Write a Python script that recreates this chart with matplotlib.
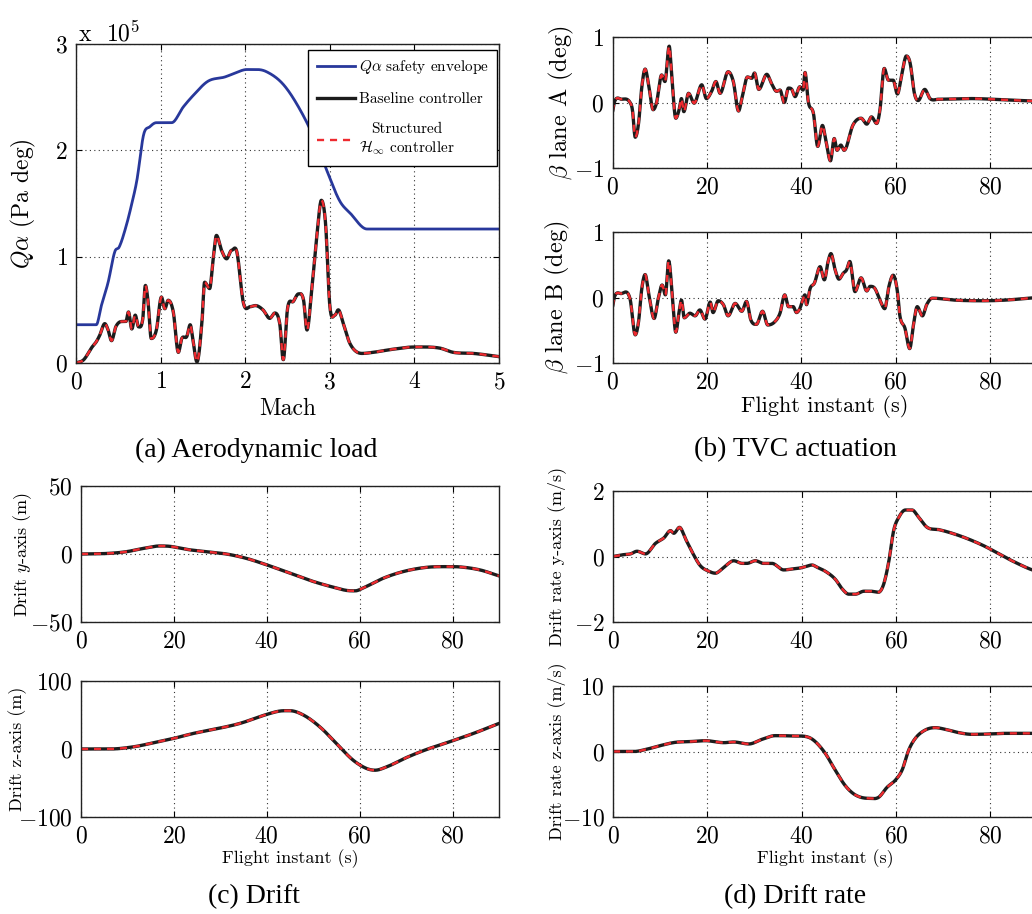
#!/usr/bin/env python

import numpy as np
import matplotlib
matplotlib.use("Agg")
import matplotlib.pyplot as plt

plt.rcParams['font.family'] = 'cmr10'
plt.rcParams['mathtext.fontset'] = 'cm'
plt.rcParams['axes.formatter.use_mathtext'] = True
plt.rcParams['axes.unicode_minus'] = True

# ---- (a) aerodynamic load, values in units of 1e5 Pa deg ----
env_mach = [0, 0.24, 0.30, 0.38, 0.46, 0.51, 0.59, 0.66, 0.72, 0.80, 0.87, 0.95, 1.03, 1.13,
            1.27, 1.39, 1.56, 1.76, 1.86, 2.02, 2.14, 2.25, 2.45, 2.65, 2.84, 2.96, 3.12,
            3.24, 3.44, 5.0]
env_qa = [0.36, 0.36, 0.54, 0.76, 1.05, 1.09, 1.28, 1.50, 1.72, 2.15, 2.22, 2.26, 2.26, 2.26,
          2.41, 2.52, 2.65, 2.69, 2.72, 2.76, 2.76, 2.74, 2.62, 2.38, 2.07, 1.82, 1.52,
          1.41, 1.26, 1.26]
qa_mach = [0, 0.09, 0.19, 0.24, 0.28, 0.34, 0.38, 0.42, 0.47, 0.54, 0.59, 0.62, 0.66, 0.70,
           0.74, 0.79, 0.82, 0.85, 0.89, 0.95, 1.01, 1.05, 1.09, 1.15, 1.21, 1.25, 1.31,
           1.35, 1.38, 1.43, 1.49, 1.52, 1.58, 1.62, 1.66, 1.72, 1.78, 1.84, 1.90, 1.98,
           2.06, 2.12, 2.21, 2.29, 2.35, 2.41, 2.45, 2.50, 2.57, 2.63, 2.69, 2.73, 2.79,
           2.85, 2.90, 2.95, 3.00, 3.06, 3.10, 3.16, 3.24, 3.38, 3.51, 3.75, 3.99, 4.30,
           4.46, 4.70, 5.0]
qa_base = [0, 0.03, 0.15, 0.20, 0.26, 0.37, 0.31, 0.21, 0.34, 0.39, 0.39, 0.48, 0.32, 0.45,
           0.34, 0.42, 0.73, 0.59, 0.23, 0.31, 0.62, 0.51, 0.59, 0.48, 0.10, 0.23, 0.25,
           0.36, 0.23, 0.01, 0.40, 0.76, 0.70, 0.97, 1.20, 1.06, 0.98, 1.06, 1.05, 0.56,
           0.53, 0.54, 0.50, 0.42, 0.47, 0.36, 0.03, 0.51, 0.58, 0.65, 0.59, 0.31, 0.72,
           1.22, 1.53, 1.31, 0.54, 0.45, 0.50, 0.37, 0.18, 0.09, 0.10, 0.13, 0.15, 0.14,
           0.10, 0.09, 0.06]

# ---- (b) TVC actuation ----
tA = [0, 0.4, 1.9, 3.7, 4.2, 4.8, 5.5, 6.2, 6.9, 7.6, 8.6, 9.3, 10.4, 11.1, 12.0, 12.5,
      13.4, 14.1, 14.6, 15.1, 16.1, 17.3, 18.9, 19.9, 21.0, 21.9, 22.8, 24.5, 25.6, 26.7,
      27.5, 28.6, 29.5, 30.1, 31.0, 32.7, 33.7, 34.8, 35.5, 36.4, 37.3, 38.0, 38.7, 39.7,
      40.4, 40.8, 41.5, 42.6, 43.5, 44.5, 45.2, 46.2, 47.0, 47.6, 48.4, 49.1, 51.0, 52.7,
      53.9, 54.9, 56.0, 56.7, 57.6, 58.5, 59.5, 60.4, 61.3, 62.3, 63.1, 64.0, 64.8, 66.2,
      67.3, 69.1, 76.1, 83.2, 90]
betaA = [-0.14, 0.01, 0.05, 0.00, -0.11, -0.53, -0.32, 0.24, 0.51, 0.29, -0.11, -0.01, 0.42,
         0.32, 0.86, 0.45, -0.24, -0.11, 0.06, -0.14, 0.14, -0.01, 0.27, 0.06, 0.17, 0.32,
         0.14, 0.47, 0.32, -0.13, 0.09, 0.39, 0.37, 0.45, 0.20, 0.43, 0.29, 0.17, 0.19, 0.00,
         0.22, 0.20, 0.09, 0.24, 0.19, 0.46, 0.01, -0.17, -0.67, -0.35, -0.57, -0.89, -0.55,
         -0.73, -0.65, -0.73, -0.34, -0.24, -0.33, -0.22, -0.32, -0.11, 0.52, 0.34, 0.34,
         0.13, 0.42, 0.71, 0.60, 0.14, 0.03, 0.20, 0.06, 0.05, 0.06, 0.04, 0.02]
tB = [0, 0.4, 1.8, 3.7, 4.8, 5.5, 6.2, 6.9, 7.7, 8.8, 9.7, 10.5, 11.2, 11.9, 12.7, 13.4,
      14.1, 14.6, 15.2, 16.4, 17.5, 18.5, 19.6, 20.7, 21.3, 22.4, 23.5, 24.5, 26.0, 27.4,
      28.4, 29.3, 30.5, 31.8, 32.9, 34.4, 35.5, 36.5, 37.3, 38.3, 39.0, 39.7, 40.8, 41.1,
      41.9, 42.8, 44.0, 44.9, 45.7, 46.3, 47.2, 48.0, 48.9, 49.6, 50.3, 51.4, 52.7, 53.9,
      54.6, 55.6, 56.7, 57.7, 58.6, 59.5, 60.4, 60.9, 62.0, 63.0, 63.8, 64.6, 65.7, 66.6,
      67.8, 72.6, 78.3, 83.2, 90]
betaB = [-0.14, 0.01, 0.06, -0.02, -0.57, -0.37, 0.14, 0.35, 0.04, -0.32, -0.01, 0.19, 0.04,
         0.56, -0.01, -0.53, -0.22, -0.04, -0.31, -0.24, -0.28, -0.19, -0.33, -0.07, -0.23,
         -0.05, -0.11, -0.28, -0.09, -0.21, -0.06, -0.34, -0.41, -0.21, -0.42, -0.37, -0.24,
         0.04, -0.14, -0.14, -0.23, -0.17, 0.04, -0.11, 0.14, 0.22, 0.47, 0.27, 0.55, 0.67,
         0.42, 0.28, 0.37, 0.42, 0.55, 0.09, 0.30, 0.10, 0.17, 0.14, -0.04, -0.17, 0.17,
         0.34, 0.09, -0.27, -0.47, -0.78, -0.42, -0.14, -0.28, -0.11, -0.01, -0.04, -0.05,
         -0.04, 0.00]

# ---- (c) drift ----
tdy = [0, 6.2, 9.8, 13.4, 17.0, 19.2, 22.7, 27.0, 31.3, 35.6, 40.0, 45.0, 50.0, 54.3, 57.2,
       59.0, 61.1, 65.1, 69.4, 74.4, 78.7, 81.6, 85.9, 90]
drift_y = [0, 0.5, 1.7, 4.1, 5.9, 5.6, 3.4, 1.7, 0, -3.2, -8.0, -14.1, -20.2, -24.4, -26.8,
           -27.1, -24.4, -17.8, -12.9, -9.8, -9.3, -9.5, -11.7, -16.1]
tdz = [0, 6.2, 11.3, 15.6, 19.9, 24.2, 29.9, 34.2, 40.0, 42.8, 45.0, 47.9, 51.4, 55.0, 58.6,
       61.5, 63.3, 65.8, 70.1, 74.4, 78.7, 84.5, 90]
drift_z = [0, 0, 3.2, 9.1, 15.5, 22.9, 30.7, 37.6, 50.9, 55.8, 56.3, 49.9, 32.7, 8.1, -16.5,
           -28.7, -31.2, -26.3, -12.5, -0.7, 9.1, 22.9, 37.6]

# ---- (d) drift rate ----
try_ = [0, 1.9, 3.7, 5.1, 6.9, 9.0, 10.8, 12.2, 12.9, 14.1, 15.4, 16.8, 18.5, 20.3, 21.7,
        23.5, 25.6, 27.4, 28.4, 30.2, 31.9, 33.7, 36.2, 38.0, 39.7, 40.8, 42.2, 43.3, 45.0,
        47.1, 48.6, 50.0, 51.4, 53.2, 54.6, 56.3, 57.4, 58.5, 59.5, 60.6, 62.0, 63.4, 64.8,
        66.6, 69.1, 71.9, 75.4, 79.0, 81.8, 85.3, 88.9, 90]
rate_y = [0, 0.05, 0.08, 0.16, 0.08, 0.40, 0.57, 0.79, 0.71, 0.89, 0.53, 0.13, -0.28, -0.45,
          -0.51, -0.33, -0.13, -0.21, -0.21, -0.13, -0.21, -0.21, -0.41, -0.38, -0.35, -0.31,
          -0.26, -0.33, -0.45, -0.69, -0.99, -1.15, -1.15, -1.06, -1.06, -1.09, -0.84, -0.13,
          0.79, 1.20, 1.42, 1.42, 1.20, 0.89, 0.82, 0.71, 0.53, 0.30, 0.08, -0.18, -0.41,
          -0.45]
trz = [0, 4.4, 6.9, 9.7, 13.2, 16.1, 19.6, 23.5, 25.6, 28.8, 31.6, 34.4, 38.0, 41.5, 42.9,
       45.0, 47.1, 49.3, 51.4, 54.2, 56.3, 58.1, 59.9, 61.3, 62.7, 64.1, 66.2, 68.3, 70.5,
       73.3, 76.1, 79.7, 83.2, 88.9, 90]
rate_z = [0, 0, 0.3, 0.84, 1.40, 1.50, 1.65, 1.35, 1.45, 1.15, 1.86, 2.42, 2.37, 2.16, 1.50,
          -0.28, -2.82, -5.27, -6.64, -7.15, -7.00, -5.47, -4.35, -2.82, 0.23, 2.01, 3.28,
          3.64, 3.38, 2.88, 2.62, 2.67, 2.77, 2.77, 2.75]

W, H = 1032, 914
BLUE = '#28389b'
BLACK = '#1c1c1c'
RED = '#ee2a2f'


def px_axes(fig, left, top, right, bottom):
    return fig.add_axes([left / W, 1 - bottom / H, (right - left) / W, (bottom - top) / H])


def Smooth(x, y, n=900):
    # dense piecewise-cubic through the read points so the curves look continuous
    x = np.asarray(x, float)
    y = np.asarray(y, float)
    xs = np.linspace(x[0], x[-1], n)
    m = np.zeros_like(y)
    d = np.diff(y) / np.diff(x)
    m[1:-1] = np.where(d[:-1] * d[1:] > 0, (d[:-1] + d[1:]) / 2, 0)
    m[0], m[-1] = d[0], d[-1]
    idx = np.clip(np.searchsorted(x, xs) - 1, 0, len(x) - 2)
    h = x[idx + 1] - x[idx]
    s = (xs - x[idx]) / h
    h00 = 2 * s**3 - 3 * s**2 + 1
    h10 = s**3 - 2 * s**2 + s
    h01 = -2 * s**3 + 3 * s**2
    h11 = s**3 - s**2
    ys = h00 * y[idx] + h10 * h * m[idx] + h01 * y[idx + 1] + h11 * h * m[idx + 1]
    return xs, ys


def StyleAxes(ax, xlim, ylim, xticks, yticks, size=17):
    ax.set_xlim(xlim)
    ax.set_ylim(ylim)
    ax.set_xticks(xticks)
    ax.set_yticks(yticks)
    ax.grid(True, linestyle=(0, (1, 3)), color='#333333', linewidth=0.8)
    ax.tick_params(direction='in', top=True, right=True, length=4, width=0.8,
                   labelsize=size, pad=6)
    for sp in ax.spines.values():
        sp.set_linewidth(1.0)
        sp.set_color('#222222')


def PlotPair(ax, t, y, n=900):
    xs, ys = Smooth(t, y, n)
    ax.plot(xs, ys, color=BLACK, lw=2.4, solid_capstyle='round')
    ax.plot(xs, ys, color=RED, lw=1.7, linestyle=(0, (3, 2.5)))


fig = plt.figure(figsize=(W / 100, H / 100), dpi=100)

# (a)
axa = px_axes(fig, 76, 44, 499, 363)
xe, ye = Smooth(env_mach, env_qa)
axa.plot(xe, ye, color=BLUE, lw=2.0, label=r'$Q\alpha$ safety envelope')
xs, ys = Smooth(qa_mach, qa_base, 1200)
axa.plot(xs, ys, color=BLACK, lw=2.4, label='Baseline controller')
axa.plot(xs, ys, color=RED, lw=1.7, linestyle=(0, (3, 2.5)),
         label='Structured\n' + r'$\mathcal{H}_\infty$ controller')
StyleAxes(axa, (0, 5), (0, 3), range(6), range(4))
axa.set_xlabel('Mach', fontsize=17, labelpad=3)
axa.set_ylabel(r'$Q\alpha$ (Pa deg)', fontsize=17, va='center')
axa.yaxis.set_label_coords(-0.125, 0.5)
fig.text(78 / W, 1 - 41 / H, r'x  $10^{5}$', fontsize=17, va='baseline')
leg = axa.legend(loc='upper right', bbox_to_anchor=(497 / W, 1 - 50 / H),
                 bbox_transform=fig.transFigure, borderaxespad=0, fontsize=11,
                 fancybox=False, framealpha=1, edgecolor='black', handlelength=2.5,
                 labelspacing=1.05, handletextpad=0.25, borderpad=0.55)
leg.get_frame().set_linewidth(1.0)
for txt in leg.get_texts():
    txt.set_multialignment('center')

# (b)
axb1 = px_axes(fig, 612.6, 37, 1037, 168)
PlotPair(axb1, tA, betaA, 1500)
StyleAxes(axb1, (0, 90), (-1, 1), range(0, 81, 20), [-1, 0, 1])
axb1.set_ylabel(r'$\beta$ lane A (deg)', fontsize=17.5, va='center')
axb1.yaxis.set_label_coords(-0.12, 0.5)

axb2 = px_axes(fig, 612.6, 232, 1037, 363)
PlotPair(axb2, tB, betaB, 1500)
StyleAxes(axb2, (0, 90), (-1, 1), range(0, 81, 20), [-1, 0, 1])
axb2.set_ylabel(r'$\beta$ lane B (deg)', fontsize=17.5, va='center')
axb2.yaxis.set_label_coords(-0.13, 0.5)
axb2.set_xlabel('Flight instant (s)', fontsize=16, labelpad=1)

# (c)
axc1 = px_axes(fig, 81, 486, 499, 622)
PlotPair(axc1, tdy, drift_y)
StyleAxes(axc1, (0, 90), (-50, 50), range(0, 81, 20), [-50, 0, 50])
axc1.set_ylabel(r'Drift $y$-axis (m)', fontsize=13, va='center')
axc1.yaxis.set_label_coords(-0.139, 0.5)

axc2 = px_axes(fig, 81, 681, 499, 817)
PlotPair(axc2, tdz, drift_z)
StyleAxes(axc2, (0, 90), (-100, 100), range(0, 81, 20), [-100, 0, 100])
axc2.set_ylabel('Drift z-axis (m)', fontsize=13, va='center')
axc2.yaxis.set_label_coords(-0.151, 0.5)
axc2.set_xlabel('Flight instant (s)', fontsize=13, labelpad=1)

# (d)
axd1 = px_axes(fig, 613, 491, 1037.5, 622)
PlotPair(axd1, try_, rate_y)
StyleAxes(axd1, (0, 90), (-2, 2), range(0, 81, 20), [-2, 0, 2])
axd1.set_ylabel('Drift rate y-axis (m/s)', fontsize=13, va='center')
axd1.yaxis.set_label_coords(-0.132, 0.5)

axd2 = px_axes(fig, 613, 686, 1037.5, 817)
PlotPair(axd2, trz, rate_z)
StyleAxes(axd2, (0, 90), (-10, 10), range(0, 81, 20), [-10, 0, 10])
axd2.set_ylabel('Drift rate z-axis (m/s)', fontsize=13, va='center')
axd2.yaxis.set_label_coords(-0.134, 0.5)
axd2.set_xlabel('Flight instant (s)', fontsize=13, labelpad=1)

# captions
cap = dict(fontsize=20, family='Liberation Serif', ha='center', va='center')
fig.text(256 / W, 1 - 450 / H, '(a) Aerodynamic load', **cap)
fig.text(795 / W, 1 - 450 / H, '(b) TVC actuation', **cap)
fig.text(254 / W, 1 - 897 / H, '(c) Drift', **cap)
fig.text(795 / W, 1 - 897 / H, '(d) Drift rate', **cap)

fig.savefig('out.png', dpi=100)
